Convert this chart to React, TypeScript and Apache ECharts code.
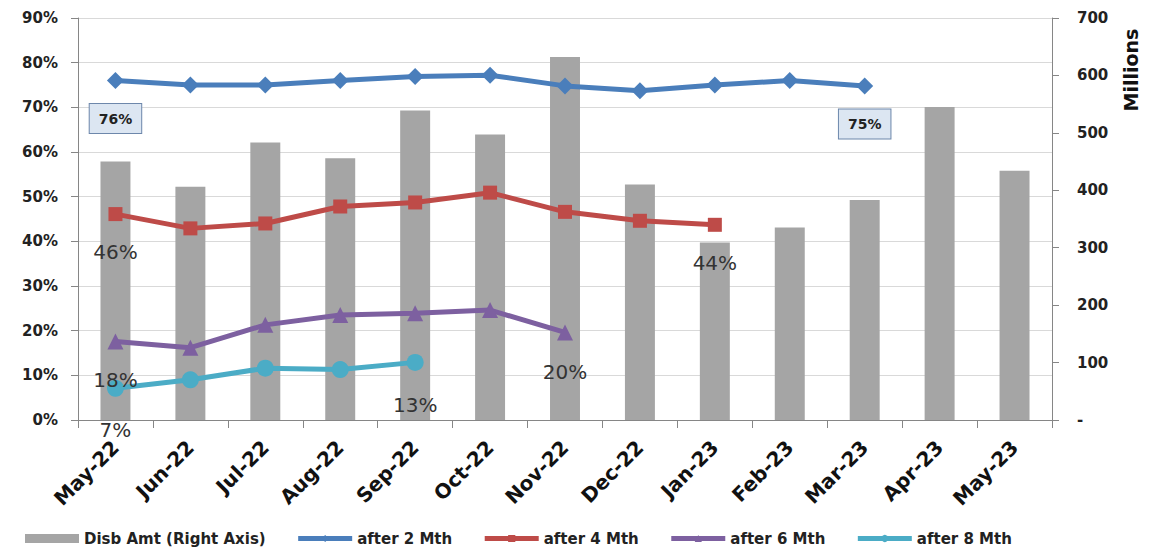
import React, { useEffect, useRef } from "react";
import * as echarts from "echarts";

const months = [
  "May-22", "Jun-22", "Jul-22", "Aug-22", "Sep-22", "Oct-22", "Nov-22",
  "Dec-22", "Jan-23", "Feb-23", "Mar-23", "Apr-23", "May-23",
];

// Disbursed amount, millions (right axis)
const disbAmt = [450, 406, 483, 456, 539, 497, 632, 410, 309, 335, 383, 545, 434];

// Collection ratios, % (left axis)
const after2 = [76, 75, 75, 76, 76.9, 77.2, 74.8, 73.7, 75, 76, 74.8, null, null];
const after4 = [46.1, 42.9, 44.0, 47.8, 48.7, 50.9, 46.6, 44.6, 43.7, null, null, null, null];
const after6 = [17.6, 16.2, 21.3, 23.5, 23.9, 24.6, 19.6, null, null, null, null, null, null];
const after8 = [7.1, 9.0, 11.6, 11.3, 12.9, null, null, null, null, null, null, null, null];

const pctTicks = [0, 10, 20, 30, 40, 50, 60, 70, 80, 90];
const amtTicks = [0, 100, 200, 300, 400, 500, 600, 700];

const FONT = "'DejaVu Sans', sans-serif";

const boxLabel = {
  show: true,
  position: "inside",
  offset: [0, 38],
  formatter: (p: any) => `${Math.round(p.value)}%`,
  fontSize: 14,
  fontWeight: "bold",
  fontFamily: FONT,
  color: "#222",
  backgroundColor: "#dce6f2",
  borderColor: "#6d87ab",
  borderWidth: 1,
  padding: [8, 9, 7, 9],
};

const plainLabel = (dy: number) => ({
  show: true,
  position: "inside",
  offset: [0, dy],
  formatter: (p: any) => `${Math.round(p.value)}%`,
  fontSize: 20,
  fontFamily: FONT,
  color: "#333",
});

// Attach a label to selected points of a series
function withLabels(values: (number | null)[], labels: Record<number, any>) {
  return values.map((v, i) => (labels[i] && v != null ? { value: v, label: labels[i] } : v));
}

export default function App() {
  const ref = useRef<HTMLDivElement>(null);

  useEffect(() => {
    if (!ref.current) return;
    const chart = echarts.init(ref.current, undefined, { renderer: "svg" });

    const lineCommon = {
      type: "line",
      yAxisIndex: 0,
      lineStyle: { width: 5 },
      z: 5,
    };

    chart.setOption({
      animation: false,
      textStyle: { fontFamily: FONT },
      grid: { left: 70, right: 109, top: 10, bottom: 131 },
      legend: {
        bottom: 0,
        left: 12,
        itemGap: 30,
        itemWidth: 54,
        itemHeight: 9,
        lineStyle: { width: 5 },
        textStyle: { fontSize: 15, fontWeight: "bold", color: "#222", fontFamily: FONT },
        data: [
          { name: "Disb Amt (Right Axis)", icon: "rect" },
          "after 2 Mth",
          "after 4 Mth",
          "after 6 Mth",
          "after 8 Mth",
        ],
      },
      xAxis: {
        type: "category",
        data: months,
        boundaryGap: true,
        axisLine: { lineStyle: { color: "#868686", width: 1 } },
        axisTick: { show: true, length: 8, lineStyle: { color: "#868686" } },
        axisLabel: {
          rotate: 45,
          fontSize: 20,
          fontWeight: "bold",
          color: "#111",
          margin: 24,
          interval: 0,
          fontFamily: FONT,
        },
      },
      yAxis: [
        {
          type: "value",
          min: 0,
          max: 90,
          interval: 10,
          axisLine: { show: true, lineStyle: { color: "#868686" } },
          axisTick: { show: true, length: 7, lineStyle: { color: "#868686" } },
          axisLabel: {
            formatter: (v: number) => (pctTicks.includes(v) ? `${v}%` : ""),
            fontSize: 15,
            fontWeight: "bold",
            color: "#222",
            margin: 20,
          },
          splitLine: { show: true, lineStyle: { color: "#d9d9d9", width: 1 } },
        },
        {
          type: "value",
          min: 0,
          max: 700,
          interval: 100,
          position: "right",
          axisLine: { show: true, lineStyle: { color: "#868686" } },
          axisTick: { show: true, length: 7, lineStyle: { color: "#868686" } },
          axisLabel: {
            formatter: (v: number) => (v === 0 ? "-" : amtTicks.includes(v) ? `${v}` : ""),
            fontSize: 15,
            fontWeight: "bold",
            color: "#222",
            margin: 25,
          },
          splitLine: { show: false },
        },
      ],
      graphic: [
        {
          type: "text",
          x: 1123,
          y: 62,
          rotation: Math.PI / 2,
          style: {
            text: "Millions",
            fontSize: 19,
            fontWeight: "bold",
            fontFamily: FONT,
            fill: "#111",
            align: "center",
            verticalAlign: "middle",
          },
        },
      ],
      series: [
        {
          name: "Disb Amt (Right Axis)",
          type: "bar",
          yAxisIndex: 1,
          data: disbAmt,
          barWidth: "40%",
          itemStyle: { color: "#a5a5a5" },
          z: 2,
        },
        {
          ...lineCommon,
          name: "after 2 Mth",
          symbol: "diamond",
          symbolSize: 17,
          color: "#4a7ebb",
          data: withLabels(after2, { 0: boxLabel, 10: boxLabel }),
        },
        {
          ...lineCommon,
          name: "after 4 Mth",
          symbol: "rect",
          symbolSize: 14,
          color: "#be4b48",
          data: withLabels(after4, { 0: plainLabel(38), 8: plainLabel(38) }),
        },
        {
          ...lineCommon,
          name: "after 6 Mth",
          symbol: "triangle",
          symbolSize: 16,
          color: "#7d60a0",
          data: withLabels(after6, { 0: plainLabel(39), 6: plainLabel(40) }),
        },
        {
          ...lineCommon,
          name: "after 8 Mth",
          symbol: "circle",
          symbolSize: 17,
          color: "#4bacc6",
          data: withLabels(after8, { 0: plainLabel(42), 4: plainLabel(43) }),
        },
      ],
    });

    return () => chart.dispose();
  }, []);

  return <div ref={ref} style={{ width: 1153, height: 543 }} />;
}
